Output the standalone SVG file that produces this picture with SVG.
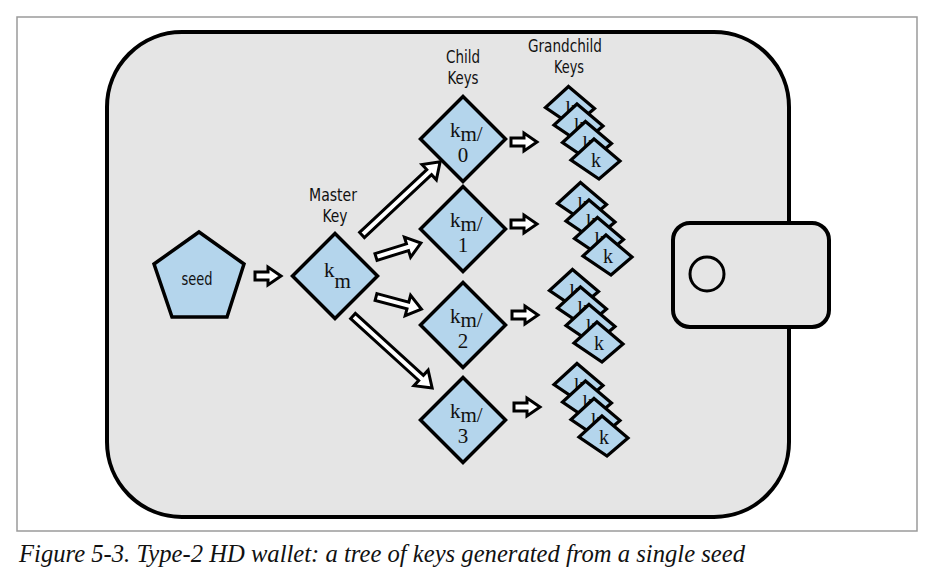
<svg xmlns="http://www.w3.org/2000/svg" width="937" height="580" viewBox="0 0 937 580">
<style>
.frame{fill:#fff;stroke:#9a9a9a;stroke-width:1.5}
.wallet{fill:#e5e5e5;stroke:#000;stroke-width:4}
.key{fill:#b4d5ec;stroke:#000;stroke-width:3.5;stroke-linejoin:miter}
.gk{fill:#b4d5ec;stroke:#000;stroke-width:3.2;stroke-linejoin:miter}
.arr{fill:#fff;stroke:#000;stroke-width:3;stroke-linejoin:miter}
.lbl{font-family:"Liberation Sans Narrow","DejaVu Sans Condensed","Liberation Sans",sans-serif;font-size:18px;text-anchor:middle;fill:#111}
.kt{font-family:"Liberation Serif",serif;font-size:21px;fill:#111}
.gt{font-family:"Liberation Serif",serif;font-size:20px;fill:#111;text-anchor:middle}
.cap{font-family:"Liberation Serif",serif;font-style:italic;font-size:26px;fill:#111}
</style>
<defs>
<polygon id="diamond" class="key" points="0,-42.5 42.5,0 0,42.5 -42.5,0"/>
<g id="gkey"><polygon class="gk" points="-1,-21 25,1 4,19 -24,0"/><text class="gt" x="1" y="7">k</text></g>
<polygon id="sarrow" class="arr" points="0,-4 13,-4 13,-9 26,0 13,9 13,4 0,4"/>
</defs>
<rect class="frame" x="17" y="17" width="900" height="514"/>
<g id="wallet">
<rect class="wallet" x="107" y="32" width="682" height="485" rx="75" ry="75"/>
<rect class="wallet" x="673" y="223" width="156" height="104" rx="17" ry="17" stroke-width="3.5"/>
<circle cx="707" cy="274" r="17" fill="none" stroke="#000" stroke-width="3"/>
</g>
<g id="labels">
<text class="lbl" x="333" y="201" textLength="48" lengthAdjust="spacingAndGlyphs">Master</text>
<text class="lbl" x="335" y="222" textLength="25" lengthAdjust="spacingAndGlyphs">Key</text>
<text class="lbl" x="463" y="63" textLength="34" lengthAdjust="spacingAndGlyphs">Child</text>
<text class="lbl" x="463" y="84" textLength="31" lengthAdjust="spacingAndGlyphs">Keys</text>
<text class="lbl" x="565" y="52" textLength="74" lengthAdjust="spacingAndGlyphs">Grandchild</text>
<text class="lbl" x="569" y="73" textLength="30" lengthAdjust="spacingAndGlyphs">Keys</text>
</g>
<g id="seed">
<polygon class="key" points="199,232 244,264 227,317 172,317 154,264"/>
<text class="lbl" x="197" y="285" font-size="21" textLength="31" lengthAdjust="spacingAndGlyphs">seed</text>
</g>
<g id="master">
<use href="#diamond" x="335" y="276"/>
<text class="kt" x="324" y="277">k<tspan dy="11">m</tspan></text>
</g>
<g id="child0">
<use href="#diamond" x="463" y="139"/>
<text class="kt" x="450" y="137">k<tspan dy="4">m/</tspan></text>
<text class="kt" x="463" y="162" text-anchor="middle">0</text>
</g>
<g id="child1">
<use href="#diamond" x="463" y="229"/>
<text class="kt" x="450" y="227">k<tspan dy="4">m/</tspan></text>
<text class="kt" x="463" y="252" text-anchor="middle">1</text>
</g>
<g id="child2">
<use href="#diamond" x="463" y="325"/>
<text class="kt" x="450" y="323">k<tspan dy="4">m/</tspan></text>
<text class="kt" x="463" y="348" text-anchor="middle">2</text>
</g>
<g id="child3">
<use href="#diamond" x="463" y="420"/>
<text class="kt" x="450" y="418">k<tspan dy="4">m/</tspan></text>
<text class="kt" x="463" y="443" text-anchor="middle">3</text>
</g>
<g id="grandchildren0">
<use href="#gkey" x="569.5" y="107.5"/>
<use href="#gkey" x="578" y="125"/>
<use href="#gkey" x="586.5" y="142.5"/>
<use href="#gkey" x="595" y="160"/>
</g>
<g id="grandchildren1">
<use href="#gkey" x="581.5" y="203.5"/>
<use href="#gkey" x="590" y="221"/>
<use href="#gkey" x="598.5" y="238.5"/>
<use href="#gkey" x="607" y="256"/>
</g>
<g id="grandchildren2">
<use href="#gkey" x="573.5" y="290.5"/>
<use href="#gkey" x="581.5" y="308"/>
<use href="#gkey" x="590" y="325.5"/>
<use href="#gkey" x="598" y="343"/>
</g>
<g id="grandchildren3">
<use href="#gkey" x="578" y="384.5"/>
<use href="#gkey" x="586.5" y="402"/>
<use href="#gkey" x="595" y="419.5"/>
<use href="#gkey" x="603" y="437"/>
</g>
<g id="connectors">
<use href="#sarrow" x="255" y="276"/>
<polygon class="arr" transform="translate(362,235) rotate(-43.1)" points="0,-3.5 92,-3.5 92,-10.5 107,0 92,10.5 92,3.5 0,3.5"/>
<polygon class="arr" transform="translate(376,257) rotate(-17.3)" points="0,-3.5 33,-3.5 33,-10.5 47,0 33,10.5 33,3.5 0,3.5"/>
<polygon class="arr" transform="translate(376,297) rotate(14.9)" points="0,-3.5 33,-3.5 33,-10.5 47,0 33,10.5 33,3.5 0,3.5"/>
<polygon class="arr" transform="translate(353,316) rotate(42.3)" points="0,-3.5 92,-3.5 92,-10.5 107,0 92,10.5 92,3.5 0,3.5"/>
<use href="#sarrow" x="511" y="142"/>
<use href="#sarrow" x="511" y="224"/>
<use href="#sarrow" x="512" y="315"/>
<use href="#sarrow" x="514" y="407"/>
</g>
<text class="cap" x="19" y="562" textLength="726" lengthAdjust="spacingAndGlyphs">Figure 5-3. Type-2 HD wallet: a tree of keys generated from a single seed</text>
</svg>
